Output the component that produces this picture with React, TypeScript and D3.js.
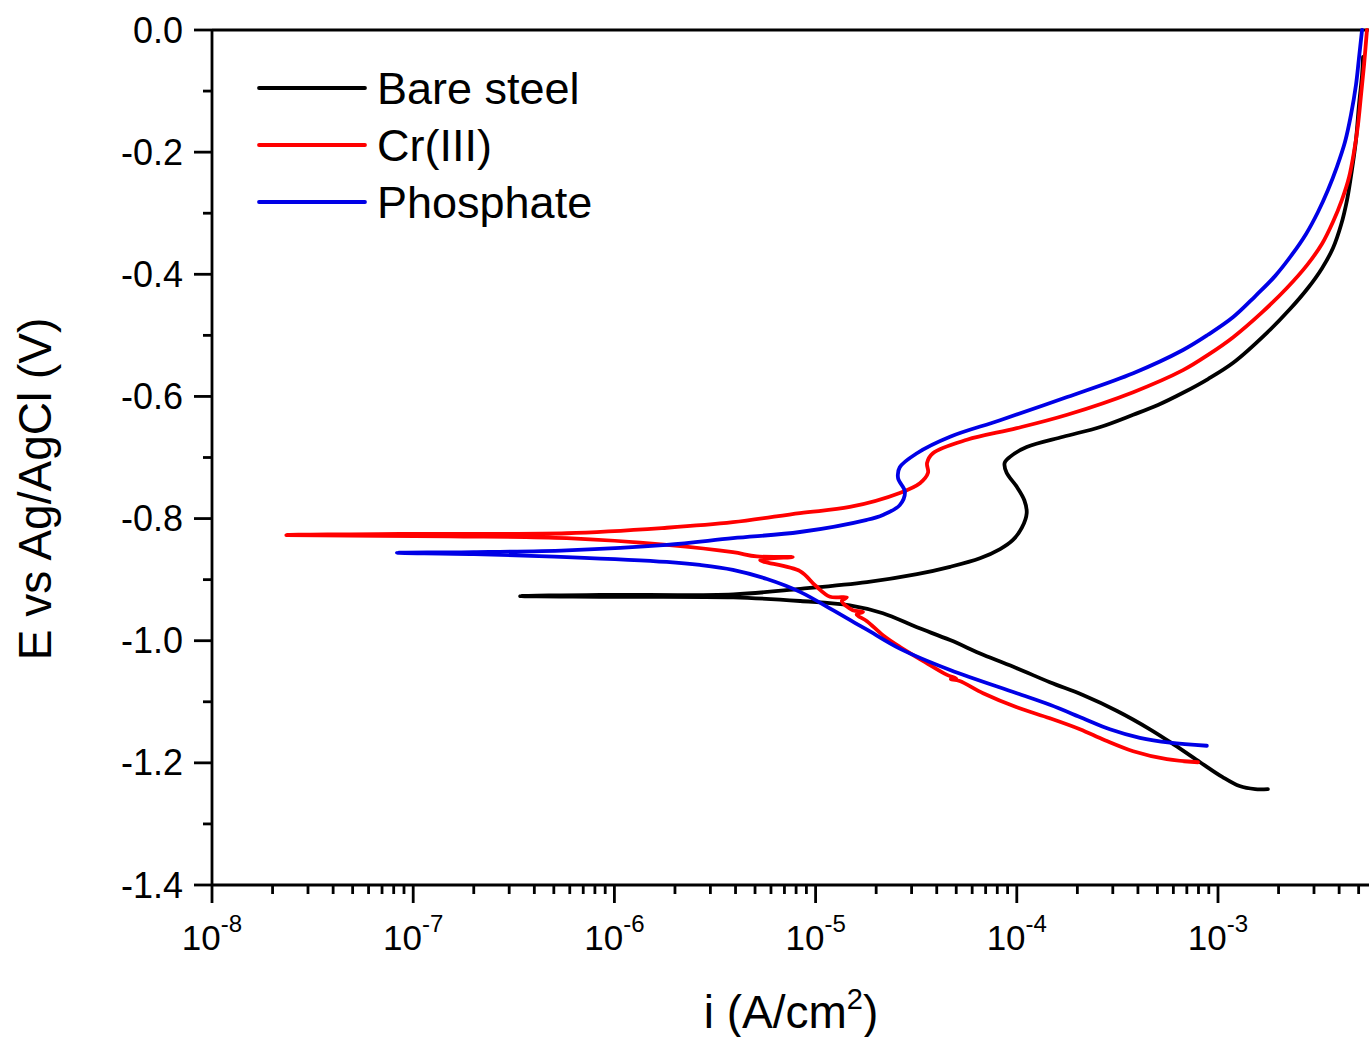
import React from "react";
import * as d3 from "d3";

// [current density (A/cm^2), potential (V vs Ag/AgCl)] in scan order
const bareSteel: [number, number][] = [
  [1.77e-3, -1.243], [1.53e-3, -1.243], [1.28e-3, -1.238], [1.05e-3, -1.223], [8.15e-4, -1.199],
  [6.1e-4, -1.171], [4.59e-4, -1.145], [3.15e-4, -1.115], [2.13e-4, -1.089], [1.46e-4, -1.068],
  [1.0e-4, -1.045], [6.8e-5, -1.023], [4.66e-5, -0.999], [3.19e-5, -0.978], [2.16e-5, -0.955],
  [1.48e-5, -0.942], [8.4e-6, -0.935], [3.9e-6, -0.929], [8.5e-7, -0.928], [3.4e-7, -0.927],
  [8.5e-7, -0.925], [3.9e-6, -0.924], [8.4e-6, -0.915], [1.8e-5, -0.904], [3.19e-5, -0.891],
  [4.66e-5, -0.879], [6.56e-5, -0.865], [8.26e-5, -0.85], [9.57e-5, -0.835], [1.06e-4, -0.815],
  [1.12e-4, -0.791], [1.09e-4, -0.77], [1.0e-4, -0.748], [8.9e-5, -0.725], [8.7e-5, -0.709],
  [9.25e-5, -0.699], [1.12e-4, -0.683], [1.7e-4, -0.666], [2.6e-4, -0.65], [3.79e-4, -0.63],
  [5.03e-4, -0.614], [6.7e-4, -0.594], [8.92e-4, -0.5715], [1.19e-3, -0.545], [1.75e-3, -0.496],
  [2.28e-3, -0.457], [2.8e-3, -0.4225], [3.29e-3, -0.39], [3.73e-3, -0.357], [4.09e-3, -0.319],
  [4.38e-3, -0.278], [4.63e-3, -0.229], [4.85e-3, -0.18], [5.02e-3, -0.123], [5.2e-3, -0.074],
  [5.26e-3, -0.044],
];

const crIII: [number, number][] = [
  [7.96e-4, -1.199], [5.57e-4, -1.194], [3.79e-4, -1.181], [2.74e-4, -1.163], [2.06e-4, -1.145],
  [1.46e-4, -1.127], [1.0e-4, -1.109], [6.8e-5, -1.086], [5.2e-5, -1.066], [4.7e-5, -1.063],
  [5.0e-5, -1.062], [4.5e-5, -1.056], [3.5e-5, -1.035], [2.62e-5, -1.01], [2.16e-5, -0.991],
  [1.8e-5, -0.968], [1.6e-5, -0.957], [1.72e-5, -0.953], [1.53e-5, -0.95], [1.35e-5, -0.935],
  [1.43e-5, -0.929], [1.18e-5, -0.928], [1.0e-5, -0.91], [8.36e-6, -0.886], [5.3e-6, -0.868],
  [7.7e-6, -0.863], [5.1e-6, -0.862], [3.88e-6, -0.855], [1.82e-6, -0.843], [5.8e-7, -0.832],
  [1.52e-7, -0.829], [2.34e-8, -0.827],
  [8.6e-8, -0.825], [5.8e-7, -0.824], [1.82e-6, -0.815], [3.88e-6, -0.806], [8.36e-6, -0.791],
  [1.48e-5, -0.781], [2.62e-5, -0.758], [3.3e-5, -0.742], [3.62e-5, -0.725], [3.58e-5, -0.709],
  [3.83e-5, -0.693], [5.65e-5, -0.671], [1.0e-4, -0.652], [1.78e-4, -0.63], [3.79e-4, -0.593],
  [6.7e-4, -0.557], [8.92e-4, -0.532], [1.19e-3, -0.503], [1.66e-3, -0.462], [2.2e-3, -0.4225],
  [2.77e-3, -0.385], [3.29e-3, -0.35], [3.73e-3, -0.314], [4.13e-3, -0.278], [4.48e-3, -0.241],
  [4.74e-3, -0.2], [4.96e-3, -0.156], [5.14e-3, -0.106], [5.32e-3, -0.057], [5.5e-3, 0.0],
];

const phosphate: [number, number][] = [
  [8.8e-4, -1.172], [5.77e-4, -1.167], [4.09e-4, -1.159], [2.9e-4, -1.145], [2.13e-4, -1.127],
  [1.46e-4, -1.105], [1.0e-4, -1.086], [4.66e-5, -1.048], [2.62e-5, -1.013], [1.8e-5, -0.982],
  [1.48e-5, -0.966], [1.22e-5, -0.95], [8.36e-6, -0.92], [5.73e-6, -0.899], [3.88e-6, -0.884],
  [2.66e-6, -0.876], [1.82e-6, -0.871], [5.8e-7, -0.863], [2.0e-7, -0.858], [8.3e-8, -0.856],
  [2.0e-7, -0.855], [5.8e-7, -0.852], [1.82e-6, -0.843], [3.88e-6, -0.832], [8.36e-6, -0.822],
  [1.8e-5, -0.802], [2.16e-5, -0.794], [2.62e-5, -0.778], [2.78e-5, -0.756], [2.57e-5, -0.734],
  [2.62e-5, -0.716], [3.19e-5, -0.693], [4.66e-5, -0.666], [8.26e-5, -0.639], [1.78e-4, -0.601],
  [3.79e-4, -0.562], [6.7e-4, -0.524], [8.92e-4, -0.499], [1.19e-3, -0.47], [1.53e-3, -0.436],
  [1.92e-3, -0.403], [2.33e-3, -0.368], [2.74e-3, -0.334], [3.14e-3, -0.298], [3.52e-3, -0.262],
  [3.9e-3, -0.224], [4.28e-3, -0.183], [4.58e-3, -0.139], [4.85e-3, -0.09], [5.02e-3, -0.046],
  [5.2e-3, 0.0],
];

const seriesNames = ["Bare steel", "Cr(III)", "Phosphate"];
const seriesColors = ["#000000", "#ff0000", "#0000e6"];
const xDecades = [-8, -7, -6, -5, -4, -3, -2];
const yTickValues = [0, -0.2, -0.4, -0.6, -0.8, -1.0, -1.2, -1.4];

const W = 1369;
const H = 1037;
const FONT = "'Liberation Sans', Arial, sans-serif";

export default function App() {
  const x = d3.scaleLog().domain([1e-8, 1e-2]).range([212, 1419.2]);
  const y = d3.scaleLinear().domain([0, -1.4]).range([30, 885]);
  const line = d3
    .line<[number, number]>()
    .x((d) => x(d[0]))
    .y((d) => y(d[1]))
    .curve(d3.curveCatmullRom.alpha(0.5));

  const allSeries = [bareSteel, crIII, phosphate];

  const minorX: number[] = [];
  xDecades.forEach((p) => {
    for (let k = 2; k <= 9; k++) minorX.push(k * Math.pow(10, p));
  });
  const minorY = d3.range(-0.1, -1.4, -0.2);

  const x0 = 212;
  const yBottom = 885;
  const axisW = 2.8;

  return (
    <svg
      width={W}
      height={H}
      style={{ position: "absolute", left: 0, top: 0, background: "#fff" }}
      fontFamily={FONT}
    >
      <rect x={0} y={0} width={W} height={H} fill="#fff" />
      <defs>
        <clipPath id="plot">
          <rect x={x0} y={20} width={W - x0} height={yBottom - 20} />
        </clipPath>
      </defs>

      {/* frame */}
      <line x1={x0} x2={W} y1={30} y2={30} stroke="#000" strokeWidth={axisW} />
      <line x1={x0} x2={W} y1={yBottom} y2={yBottom} stroke="#000" strokeWidth={axisW} />
      <line x1={x0} x2={x0} y1={30} y2={yBottom} stroke="#000" strokeWidth={axisW} />

      {/* y ticks */}
      {yTickValues.map((v) => (
        <g key={"yt" + v}>
          <line x1={x0 - 18} x2={x0} y1={y(v)} y2={y(v)} stroke="#000" strokeWidth={axisW} />
          <text x={183} y={y(v) + 12.5} textAnchor="end" fontSize={36} fill="#000">
            {v === 0 ? "0.0" : v.toFixed(1)}
          </text>
        </g>
      ))}
      {minorY.map((v) => (
        <line key={"ym" + v} x1={x0 - 9} x2={x0} y1={y(v)} y2={y(v)} stroke="#000" strokeWidth={axisW} />
      ))}

      {/* x ticks */}
      {xDecades.map((p) => {
        const px = x(Math.pow(10, p));
        if (px > W) return null;
        return (
          <g key={"xt" + p}>
            <line x1={px} x2={px} y1={yBottom} y2={yBottom + 18} stroke="#000" strokeWidth={axisW} />
            <text x={px} y={950} textAnchor="middle" fontSize={35} fill="#000">
              <tspan>10</tspan>
              <tspan fontSize={24} dy={-18}>{String(p)}</tspan>
            </text>
          </g>
        );
      })}
      {minorX.map((v) => {
        const px = x(v);
        if (px > W) return null;
        return (
          <line key={"xm" + v} x1={px} x2={px} y1={yBottom} y2={yBottom + 9} stroke="#000" strokeWidth={axisW} />
        );
      })}

      {/* curves */}
      <g clipPath="url(#plot)">
        {allSeries.map((s, i) => (
          <path
            key={seriesNames[i]}
            d={line(s) || ""}
            fill="none"
            stroke={seriesColors[i]}
            strokeWidth={3.8}
            strokeLinejoin="round"
            strokeLinecap="round"
          />
        ))}
      </g>

      {/* legend */}
      {seriesNames.map((n, i) => {
        const ly = 88 + i * 57;
        return (
          <g key={"lg" + n}>
            <line x1={259} x2={365} y1={ly} y2={ly} stroke={seriesColors[i]} strokeWidth={3.8} strokeLinecap="round" />
            <text x={377} y={ly + 16} fontSize={45} fill="#000">
              {n}
            </text>
          </g>
        );
      })}

      {/* axis titles */}
      <text x={791} y={1028} textAnchor="middle" fontSize={46} fill="#000">
        <tspan>i (A/cm</tspan>
        <tspan fontSize={29} dy={-19}>2</tspan>
        <tspan dy={19}>)</tspan>
      </text>
      <text
        transform="translate(51,489) rotate(-90)"
        textAnchor="middle"
        fontSize={46}
        fill="#000"
      >
        E vs Ag/AgCl (V)
      </text>
    </svg>
  );
}
